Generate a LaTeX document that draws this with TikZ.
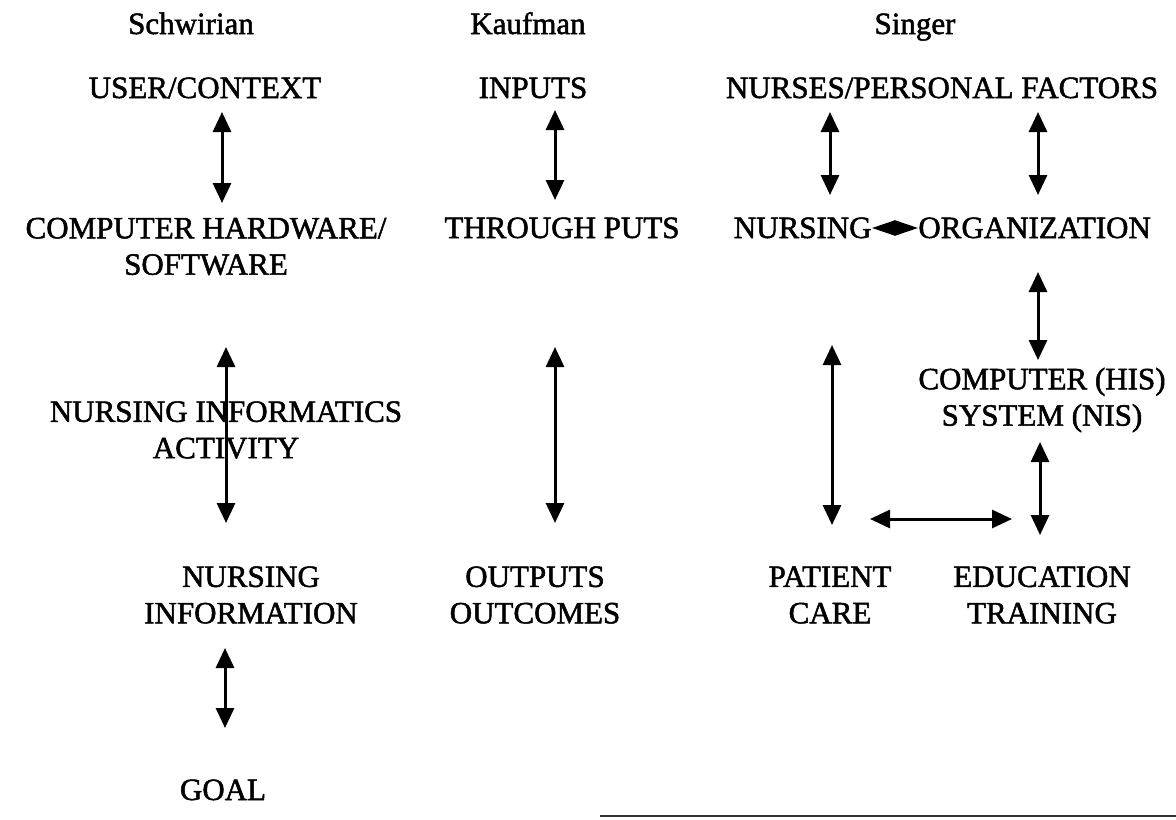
\documentclass[tikz,border=0pt]{standalone}
\usepackage{fontspec}
\setmainfont{Liberation Serif}
\newfontfamily\labelfont[FakeBold=1.6]{Liberation Serif}
\usetikzlibrary{arrows.meta}
\begin{document}
\begin{tikzpicture}[x=0.5pt,y=-0.5pt,
  lbl/.style={font=\labelfont\fontsize{15.5}{18.2}\selectfont, align=center, inner sep=0pt},
  head/.style={lbl, anchor=base},
  line1/.style={lbl, anchor=base},
  link/.style={line width=1.5pt, {Triangle[width=9pt,length=10pt]}-{Triangle[width=9pt,length=10pt]}},
  tiny/.style={line width=1pt, {Triangle[width=7.5pt,length=11.5pt]}-{Triangle[width=7.5pt,length=11.5pt]}},
]
\useasboundingbox (0,0) rectangle (1176,819);

% column headings
\node[head] (hs) at (191,34) {Schwirian};
\node[head] (hk) at (528,34) {Kaufman};
\node[head] (hg) at (915,34) {Singer};

% Schwirian model
\node[line1] (user) at (205,98) {USER/CONTEXT};
\node[lbl] (hw) at (206,246.5) {COMPUTER HARDWARE/\\SOFTWARE};
\node[lbl] (nia) at (226,430) {NURSING INFORMATICS\\ACTIVITY};
\node[lbl] (ninfo) at (251,595) {NURSING\\INFORMATION};
\node[line1] (goal) at (223,800) {GOAL};

% Kaufman model
\node[line1] (inp) at (533,98) {INPUTS};
\node[line1] (thru) at (562,238) {THROUGH PUTS};
\node[lbl] (outp) at (535,595) {OUTPUTS\\OUTCOMES};

% Singer model
\node[line1] (npf) at (942,98) {NURSES/PERSONAL FACTORS};
\node[line1, anchor=base east] (nurs) at (872,238) {NURSING};
\node[line1, anchor=base west] (org) at (918,238) {ORGANIZATION};
\node[lbl] (comp) at (1042,400) {COMPUTER (HIS)\\SYSTEM (NIS)};
\node[lbl] (pat) at (830,595) {PATIENT\\CARE};
\node[lbl] (edu) at (1042,595) {EDUCATION\\TRAINING};

% arrow end points
\coordinate (s1a) at (222,112);  \coordinate (s1b) at (222,203);
\coordinate (s2a) at (226,347);  \coordinate (s2b) at (226,523);
\coordinate (s3a) at (225,648);  \coordinate (s3b) at (225,728);
\coordinate (k1a) at (555,110);  \coordinate (k1b) at (555,200);
\coordinate (k2a) at (555,347);  \coordinate (k2b) at (555,523);
\coordinate (g1a) at (830,112);  \coordinate (g1b) at (830,195);
\coordinate (g2a) at (1038,112); \coordinate (g2b) at (1038,195);
\coordinate (g3a) at (1038,272); \coordinate (g3b) at (1038,360);
\coordinate (g4a) at (832,345);  \coordinate (g4b) at (832,525);
\coordinate (g5a) at (1040,442); \coordinate (g5b) at (1040,535);
\coordinate (g6a) at (870,519);  \coordinate (g6b) at (1012,519);

% connectors
\draw[link] (s1a) -- (s1b);
\draw[link] (s2a) -- (s2b);
\draw[link] (s3a) -- (s3b);
\draw[link] (k1a) -- (k1b);
\draw[link] (k2a) -- (k2b);
\draw[link] (g1a) -- (g1b);
\draw[link] (g2a) -- (g2b);
\draw[link] (g3a) -- (g3b);
\draw[link] (g4a) -- (g4b);
\draw[link] (g5a) -- (g5b);
\draw[link] (g6a) -- (g6b);
\draw[tiny] ([yshift=5pt]nurs.base east) -- ([yshift=5pt]org.base west);

% rule along the lower edge
\draw[line width=1pt, black!80] (600,816) -- (1176,816);
\end{tikzpicture}
\end{document}
